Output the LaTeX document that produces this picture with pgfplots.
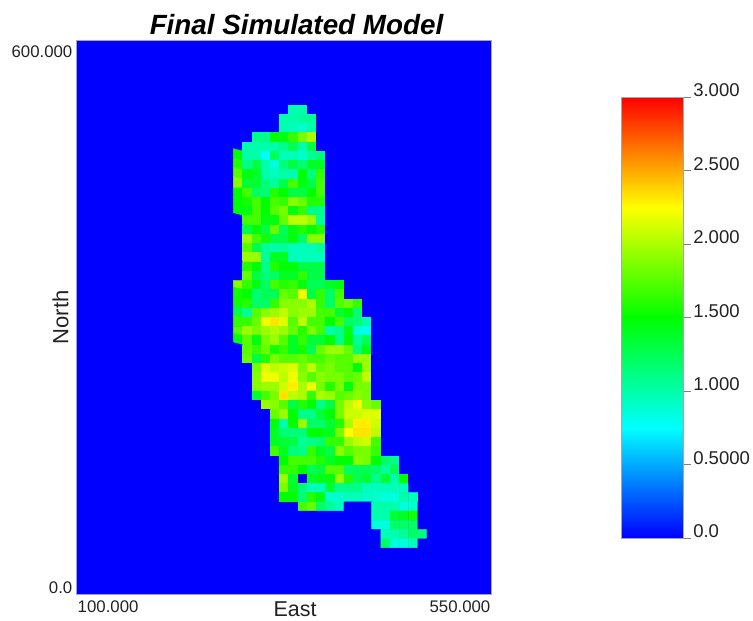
\documentclass[border=0pt]{standalone}
\usepackage{pgfplots}
\pgfplotsset{compat=1.18}
\usepackage{fontspec}
\setmainfont{Liberation Sans}
\definecolor{ink}{HTML}{222222}
\begin{document}
\begin{tikzpicture}[x=1pt,y=1pt]
\path[use as bounding box] (0,0) rectangle (753,621);
\begin{axis}[
  at={(83,29)},anchor=south west,
  scale only axis,width=415pt,height=554pt,
  xmin=100,xmax=550,ymin=0,ymax=600,
  axis on top,
  axis background/.style={fill={rgb,255:red,0;green,0;blue,255}},
  axis line style={gray!70,line width=0.8pt},
  tick style={draw=none},
  tick label style={font=\fontsize{16.8}{18}\selectfont,text=ink},
  xtick={100},xticklabels={100.000},
  xticklabel style={anchor=north west,inner xsep=1pt,inner ysep=1pt,yshift=-5pt},
  extra x ticks={550},extra x tick labels={550.000},
  extra x tick style={xticklabel style={anchor=north east,inner xsep=1pt,inner ysep=1pt,yshift=0pt}},
  ytick={0},yticklabels={0.0},
  yticklabel style={anchor=south east,inner xsep=4pt,inner ysep=0pt,yshift=0pt},
  extra y ticks={600},extra y tick labels={600.000},
  extra y tick style={yticklabel style={anchor=north east,inner xsep=4pt,inner ysep=1pt,yshift=-4pt}},
  xlabel={East},
  xlabel style={at={(axis description cs:0.5265,0)},anchor=north,yshift=-7pt,font=\fontsize{21.5}{23}\selectfont,text=ink,inner sep=0pt},
  ylabel={North},
  ylabel style={at={(axis description cs:-0.016,0.5)},anchor=south,rotate=0,yshift=0pt,font=\fontsize{22}{24}\selectfont,text=ink,inner sep=1pt},
  title={Final Simulated Model},
  title style={at={(axis description cs:0.53,1)},anchor=south,yshift=-2pt,font=\fontsize{27.8}{29}\selectfont\bfseries\itshape,text=black,inner sep=1pt},
  colormap={rainb}{rgb255(0)=(0,0,255) rgb255(1)=(0,255,255) rgb255(2)=(0,255,0) rgb255(3)=(255,255,0) rgb255(4)=(255,0,0)},
  point meta min=0,point meta max=3,
  colorbar,
  colorbar/width=62pt,
  colorbar style={
    at={(parent axis.south west)},anchor=south west,xshift=536pt,yshift=56pt,
    scale only axis,height=441pt,
    axis line style={gray!70,line width=0.8pt},
    ytick={0,0.5,1,1.5,2,2.5,3},
    yticklabels={0.0,0.5000,1.000,1.500,2.000,2.500,3.000},
    ytick pos=right,
    yticklabel pos=right,
    major tick length=8pt,
    tick align=outside,
    ytick style={draw=gray,line width=0.9pt},
    yticklabel style={font=\fontsize{18.5}{20}\selectfont,text=ink,anchor=west,yshift=7pt,xshift=0pt,inner xsep=2pt},
  },
]
\addplot[matrix plot*,mesh/cols=23,point meta=explicit]
table[row sep=crcr,header=false,
  x expr={265+10*mod(\coordindex,23)},
  y expr={535-10*floor(\coordindex/23)},
  meta index=0]{
0\\0\\0\\0\\0\\0\\0\\0\\0\\0\\0\\0\\0\\0\\0\\0\\0\\0\\0\\0\\0\\0\\0\\
0\\0\\0\\0\\0\\0\\0\\1.0\\1.0\\0\\0\\0\\0\\0\\0\\0\\0\\0\\0\\0\\0\\0\\0\\
0\\0\\0\\0\\0\\0\\1.0\\1.0\\1.05\\1.05\\0\\0\\0\\0\\0\\0\\0\\0\\0\\0\\0\\0\\0\\
0\\0\\0\\0\\0\\0\\1.0\\.95\\.9\\1.0\\0\\0\\0\\0\\0\\0\\0\\0\\0\\0\\0\\0\\0\\
0\\0\\0\\1.1\\1.1\\1.5\\1.45\\1.65\\1.85\\2.0\\0\\0\\0\\0\\0\\0\\0\\0\\0\\0\\0\\0\\0\\
0\\0\\1.0\\1.0\\1.0\\1.0\\1.1\\1.25\\1.0\\1.3\\0\\0\\0\\0\\0\\0\\0\\0\\0\\0\\0\\0\\0\\
0\\1.5\\1.0\\1.0\\.78\\1.25\\.95\\.95\\.9\\1.05\\1.15\\0\\0\\0\\0\\0\\0\\0\\0\\0\\0\\0\\0\\
0\\1.6\\1.1\\1.3\\1.0\\.85\\1.15\\1.3\\1.15\\1.4\\1.4\\0\\0\\0\\0\\0\\0\\0\\0\\0\\0\\0\\0\\
0\\1.75\\1.45\\1.4\\1.0\\.95\\1.0\\1.0\\1.5\\1.15\\1.65\\0\\0\\0\\0\\0\\0\\0\\0\\0\\0\\0\\0\\
0\\1.9\\1.35\\1.35\\1.15\\1.05\\1.3\\1.7\\1.45\\1.3\\1.7\\0\\0\\0\\0\\0\\0\\0\\0\\0\\0\\0\\0\\
0\\1.5\\1.7\\1.2\\1.15\\1.6\\1.5\\1.3\\1.3\\1.5\\1.7\\0\\0\\0\\0\\0\\0\\0\\0\\0\\0\\0\\0\\
0\\1.5\\1.55\\1.7\\1.5\\1.7\\1.65\\1.9\\1.8\\1.6\\1.6\\0\\0\\0\\0\\0\\0\\0\\0\\0\\0\\0\\0\\
0\\1.5\\1.45\\1.7\\1.5\\1.75\\1.85\\1.45\\1.65\\1.1\\1.1\\0\\0\\0\\0\\0\\0\\0\\0\\0\\0\\0\\0\\
0\\0\\1.7\\1.7\\1.45\\1.45\\1.8\\2.05\\2.05\\1.95\\1.05\\0\\0\\0\\0\\0\\0\\0\\0\\0\\0\\0\\0\\
0\\0\\1.3\\1.5\\1.3\\1.8\\1.25\\1.45\\1.6\\1.5\\1.6\\0\\0\\0\\0\\0\\0\\0\\0\\0\\0\\0\\0\\
0\\0\\1.95\\1.7\\1.55\\1.3\\1.3\\1.45\\1.2\\1.9\\1.9\\0\\0\\0\\0\\0\\0\\0\\0\\0\\0\\0\\0\\
0\\0\\1.75\\1.3\\1.05\\1.0\\1.05\\.95\\.95\\.95\\1.05\\0\\0\\0\\0\\0\\0\\0\\0\\0\\0\\0\\0\\
0\\0\\1.95\\1.95\\1.05\\1.4\\1.4\\.95\\.95\\.95\\.95\\0\\0\\0\\0\\0\\0\\0\\0\\0\\0\\0\\0\\
0\\0\\1.6\\1.5\\1.1\\1.6\\1.5\\1.5\\1.3\\1.3\\1.3\\0\\0\\0\\0\\0\\0\\0\\0\\0\\0\\0\\0\\
0\\0\\1.8\\1.3\\1.15\\1.2\\1.4\\1.4\\1.65\\1.3\\1.3\\0\\0\\0\\0\\0\\0\\0\\0\\0\\0\\0\\0\\
0\\1.9\\1.65\\1.45\\1.2\\1.7\\1.6\\1.65\\1.45\\1.25\\1.25\\1.4\\1.45\\0\\0\\0\\0\\0\\0\\0\\0\\0\\0\\
0\\1.55\\1.5\\1.15\\1.25\\1.25\\1.8\\1.75\\2.2\\1.3\\1.65\\1.2\\1.7\\0\\0\\0\\0\\0\\0\\0\\0\\0\\0\\
0\\1.55\\1.6\\1.2\\1.2\\1.65\\1.9\\1.9\\1.9\\2.0\\1.65\\1.2\\1.75\\1.8\\1.65\\0\\0\\0\\0\\0\\0\\0\\0\\
0\\1.3\\1.05\\1.75\\1.9\\1.95\\2.05\\1.9\\1.95\\1.95\\1.7\\1.7\\1.35\\1.5\\1.15\\0\\0\\0\\0\\0\\0\\0\\0\\
0\\1.65\\1.65\\1.8\\2.2\\2.33\\2.15\\1.75\\2.05\\1.7\\1.7\\1.5\\1.7\\1.2\\1.15\\1.0\\0\\0\\0\\0\\0\\0\\0\\
0\\1.75\\1.95\\1.85\\1.95\\2.0\\1.95\\1.8\\1.6\\1.85\\1.7\\1.0\\1.1\\1.45\\.85\\.8\\0\\0\\0\\0\\0\\0\\0\\
0\\1.45\\1.75\\1.45\\1.85\\1.95\\1.75\\1.4\\1.65\\1.35\\1.35\\1.5\\1.1\\1.5\\1.05\\1.25\\0\\0\\0\\0\\0\\0\\0\\
0\\0\\1.75\\1.65\\1.8\\1.55\\1.65\\1.4\\1.55\\1.25\\1.8\\1.95\\1.95\\1.8\\1.15\\1.45\\0\\0\\0\\0\\0\\0\\0\\
0\\0\\1.8\\1.3\\1.6\\1.85\\1.75\\1.75\\1.8\\1.7\\1.7\\1.8\\1.75\\1.75\\1.95\\1.95\\0\\0\\0\\0\\0\\0\\0\\
0\\0\\0\\1.85\\2.15\\2.05\\2.1\\2.15\\1.85\\2.05\\1.8\\1.85\\1.75\\1.75\\1.5\\1.95\\0\\0\\0\\0\\0\\0\\0\\
0\\0\\0\\1.9\\2.2\\2.2\\2.05\\2.2\\1.9\\1.75\\1.9\\1.85\\1.85\\1.75\\1.8\\2.05\\0\\0\\0\\0\\0\\0\\0\\
0\\0\\0\\1.9\\1.95\\1.95\\2.1\\2.3\\2.0\\2.2\\1.85\\1.6\\1.85\\1.45\\1.85\\1.85\\0\\0\\0\\0\\0\\0\\0\\
0\\0\\0\\1.35\\1.7\\1.85\\2.33\\2.05\\2.0\\1.65\\2.0\\1.95\\1.75\\1.8\\1.9\\1.85\\0\\0\\0\\0\\0\\0\\0\\
0\\0\\0\\0\\1.95\\1.9\\1.75\\1.3\\1.6\\1.5\\1.1\\1.3\\1.85\\2.05\\2.2\\1.9\\1.8\\0\\0\\0\\0\\0\\0\\
0\\0\\0\\0\\0\\1.8\\1.95\\1.5\\1.1\\1.1\\1.35\\1.5\\1.85\\2.1\\2.1\\2.15\\2.15\\0\\0\\0\\0\\0\\0\\
0\\0\\0\\0\\0\\1.45\\1.0\\1.5\\1.95\\1.2\\1.2\\1.35\\1.6\\2.0\\2.3\\2.3\\2.1\\0\\0\\0\\0\\0\\0\\
0\\0\\0\\0\\0\\1.4\\1.15\\1.15\\1.15\\1.5\\1.5\\1.4\\1.85\\2.25\\2.33\\2.33\\2.05\\0\\0\\0\\0\\0\\0\\
0\\0\\0\\0\\0\\1.4\\1.35\\1.3\\1.05\\1.1\\1.15\\1.65\\1.65\\1.95\\2.05\\2.1\\1.7\\0\\0\\0\\0\\0\\0\\
0\\0\\0\\0\\0\\1.7\\1.4\\1.15\\1.1\\1.65\\1.4\\1.3\\1.9\\1.75\\1.85\\1.85\\1.65\\0\\0\\0\\0\\0\\0\\
0\\0\\0\\0\\0\\0\\1.5\\1.7\\1.7\\1.7\\1.6\\1.4\\1.5\\1.5\\1.9\\1.85\\1.5\\1.2\\1.1\\0\\0\\0\\0\\
0\\0\\0\\0\\0\\0\\1.65\\1.65\\1.5\\1.25\\1.3\\1.75\\1.75\\1.2\\1.25\\1.25\\1.2\\1.05\\1.25\\0\\0\\0\\0\\
0\\0\\0\\0\\0\\0\\1.95\\1.35\\0\\1.4\\1.45\\1.45\\1.95\\1.6\\1.25\\1.35\\1.1\\1.35\\1.0\\1.5\\0\\0\\0\\
0\\0\\0\\0\\0\\0\\1.85\\1.4\\1.15\\.95\\.95\\1.35\\1.1\\1.1\\1.1\\.95\\.95\\.95\\.95\\.95\\0\\0\\0\\
0\\0\\0\\0\\0\\0\\1.5\\1.5\\1.15\\1.6\\1.45\\.9\\.9\\.95\\.95\\.9\\.9\\.85\\.85\\1.0\\.95\\0\\0\\
0\\0\\0\\0\\0\\0\\0\\0\\1.7\\1.8\\1.2\\1.05\\.95\\0\\0\\0\\1.0\\1.0\\1.0\\.85\\.9\\0\\0\\
0\\0\\0\\0\\0\\0\\0\\0\\0\\0\\0\\0\\0\\0\\0\\0\\1.0\\1.0\\1.35\\1.4\\1.55\\0\\0\\
0\\0\\0\\0\\0\\0\\0\\0\\0\\0\\0\\0\\0\\0\\0\\0\\.85\\.85\\1.2\\1.2\\1.2\\0\\0\\
0\\0\\0\\0\\0\\0\\0\\0\\0\\0\\0\\0\\0\\0\\0\\0\\0\\.95\\1.0\\1.05\\1.2\\1.15\\0\\
0\\0\\0\\0\\0\\0\\0\\0\\0\\0\\0\\0\\0\\0\\0\\0\\0\\1.2\\.85\\.85\\.95\\0\\0\\
0\\0\\0\\0\\0\\0\\0\\0\\0\\0\\0\\0\\0\\0\\0\\0\\0\\0\\0\\0\\0\\0\\0\\
};
\end{axis}
\end{tikzpicture}
\end{document}
